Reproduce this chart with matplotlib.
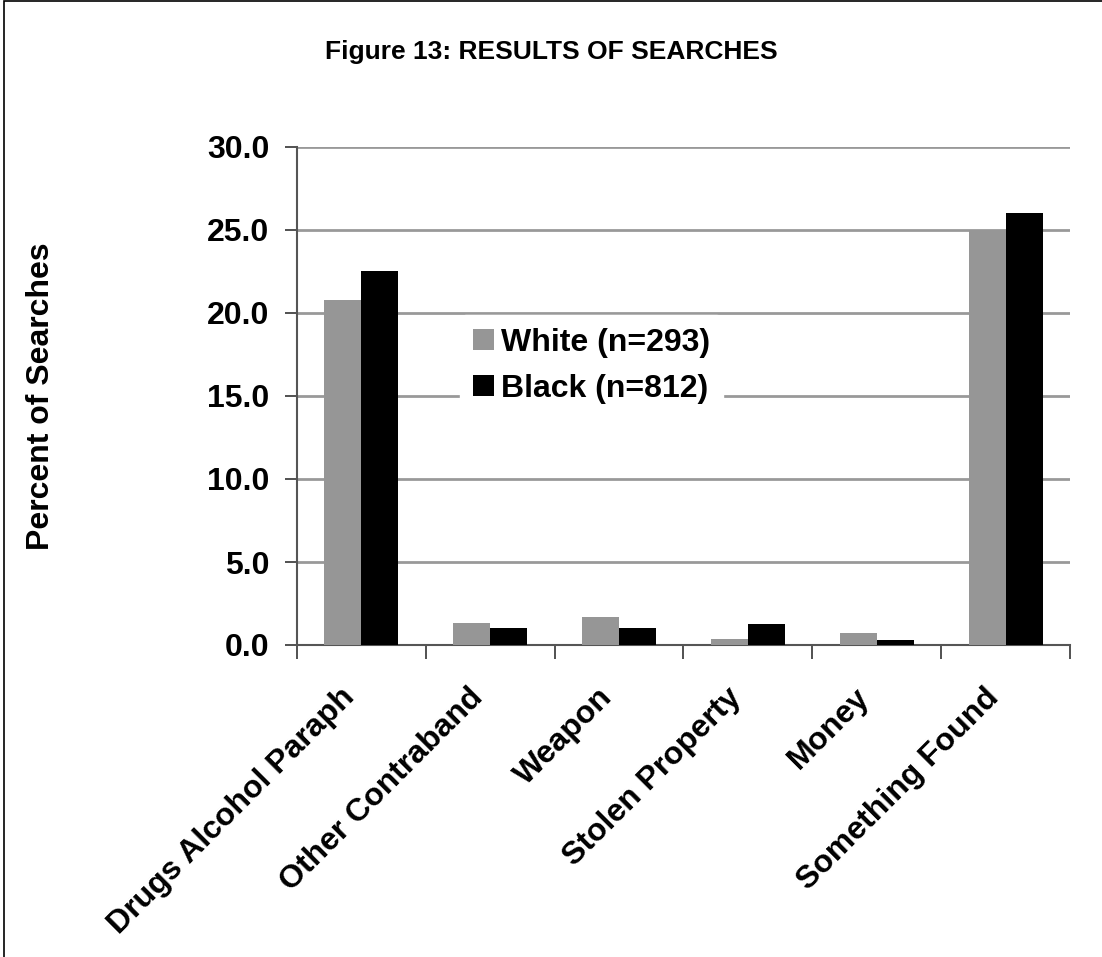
import matplotlib
matplotlib.use("Agg")
import matplotlib.pyplot as plt
import numpy as np
from matplotlib.patches import Rectangle

categories = ["Drugs Alcohol Paraph", "Other Contraband", "Weapon",
              "Stolen Property", "Money", "Something Found"]
white_vals = [20.8, 1.35, 1.7, 0.35, 0.7, 25.0]
black_vals = [22.5, 1.0, 1.0, 1.25, 0.3, 26.0]
series_names = ["White (n=293)", "Black (n=812)"]
yticks = [0.0, 5.0, 10.0, 15.0, 20.0, 25.0, 30.0]

plt.rcParams['font.family'] = ['Liberation Sans', 'DejaVu Sans']
plt.rcParams['font.weight'] = 'bold'

FS = 23

fig = plt.figure(figsize=(11.02, 9.57), dpi=100)
ax = fig.add_axes([297/1102, 1-645/957, (1070-297)/1102, (645-147)/957])

x = np.arange(len(categories))
w = 0.287
ax.bar(x - w/2, white_vals, w, color="#969696", label=series_names[0], zorder=3)
ax.bar(x + w/2, black_vals, w, color="#000000", label=series_names[1], zorder=3)

ax.set_xlim(-0.5, len(categories) - 0.5)
ax.set_ylim(0, 30)
ax.set_yticks(yticks)
ax.set_yticklabels([f"{v:.1f}" for v in yticks], fontsize=FS, fontweight='bold')
for v in yticks[1:]:
    ax.axhline(v, color="#999999", lw=2, zorder=1)

ax.set_xticks(np.arange(len(categories) + 1) - 0.5)
ax.set_xticklabels([])
ax.tick_params(axis='x', length=10, width=1.2, color="#333333")
ax.tick_params(axis='y', length=9, width=1.2, color="#333333", pad=11)
for i, c in enumerate(categories):
    ax.annotate(c, xy=(x[i], 0), xycoords=('data', 'axes fraction'),
                xytext=(-16, -27), textcoords='offset points',
                rotation=45, ha='right', va='top', rotation_mode='anchor',
                fontsize=FS, fontweight='bold')

for s in ['top', 'right']:
    ax.spines[s].set_visible(False)
ax.spines['left'].set_color("#555555")
ax.spines['left'].set_linewidth(1.5)
ax.spines['bottom'].set_color("#555555")
ax.spines['bottom'].set_linewidth(1.5)

ax.set_ylabel("Percent of Searches", fontsize=FS, fontweight='bold')
ax.yaxis.set_label_coords((56-297)/773, 0.5)

leg = ax.legend(loc='upper left', bbox_to_anchor=((460-297)/773, (645-315)/498),
                frameon=True, fontsize=FS, handlelength=0.66, handleheight=0.66,
                handletextpad=0.22, labelspacing=0.5, borderpad=0.4,
                borderaxespad=0)
leg.get_frame().set_edgecolor('white')
leg.get_frame().set_facecolor('white')
leg.get_frame().set_alpha(1)
leg.set_zorder(5)

fig.text(0.5, 1-52/957, "Figure 13: RESULTS OF SEARCHES", ha='center', va='center',
         fontsize=19, fontweight='bold')

fig.patches.append(Rectangle((4/1102, -0.1), 1.2, 1.1 - 1/957, transform=fig.transFigure,
                             fill=False, edgecolor='black', lw=1.2))

fig.savefig("out.png", dpi=100)
